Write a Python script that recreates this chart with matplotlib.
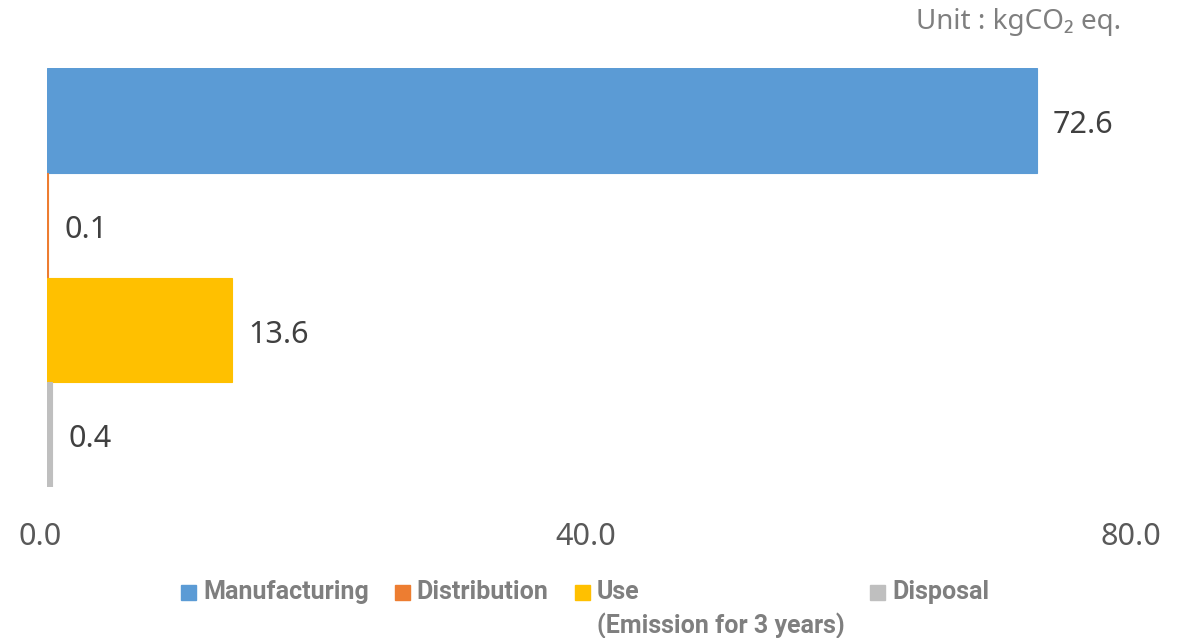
import matplotlib.pyplot as plt
import matplotlib.transforms as mtransforms
from matplotlib.patches import Rectangle

plt.rcParams['font.family'] = ['Noto Sans', 'DejaVu Sans']

# Data
stages = ['Manufacturing', 'Distribution', 'Use\n(Emission for 3 years)', 'Disposal']
emissions = [72.6, 0.1, 13.6, 0.4]
colors = ['#5B9BD5', '#ED7D31', '#FFC000', '#BFBFBF']
xticks = [0, 40, 80]

W, H = 1188, 638
fig = plt.figure(figsize=(W / 100, H / 100), dpi=100)
ax = fig.add_axes([47 / W, 1 - 487 / H, (1138 - 47) / W, (487 - 68) / H])

ypos = list(range(len(stages)))
bars = ax.barh(ypos, emissions, height=1.0, color=colors,
               edgecolor=colors, linewidth=0.8)

# value labels
for y, v in zip(ypos, emissions):
    ax.annotate(f"{v:.1f}", (v, y), xytext=(11.5, -3.5), textcoords='offset points',
                va='center', ha='left', fontsize=22, color='#404040')

ax.set_xlim(0, 80)
ax.set_ylim(3.5, -0.5)
ax.set_xticks(xticks)
ax.set_xticklabels([f"{t:.1f}" for t in xticks])
ax.set_yticks([])
ax.tick_params(axis='x', length=0, pad=25, labelsize=22, labelcolor='#595959')
shift = mtransforms.ScaledTranslation(-7 / 100, 0, fig.dpi_scale_trans)
for lab in ax.get_xticklabels():
    lab.set_transform(lab.get_transform() + shift)
for s in ax.spines.values():
    s.set_visible(False)

fig.text(1121 / W, 1 - 22 / H, "Unit : kgCO\u2082 eq.", ha='right', va='center',
         fontsize=20, color='#7f7f7f')

# legend, laid out by hand so the two-line entry keeps its square on the first line
fig.canvas.draw()
renderer = fig.canvas.get_renderer()
x = 181
box = 15
for name, c in zip(stages, colors):
    fig.patches.append(Rectangle((x / W, 1 - 600 / H), box / W, box / H,
                                 transform=fig.transFigure, color=c))
    t = fig.text((x + box + 7) / W, 1 - 580 / H, name, ha='left', va='top',
                 fontsize=18, fontweight='bold', color='#7f7f7f', linespacing=1.4,
                 family=['Roboto', 'DejaVu Sans'])
    w = t.get_window_extent(renderer).width
    x = x + box + 7 + w + 26

fig.savefig('out.png', dpi=100)
